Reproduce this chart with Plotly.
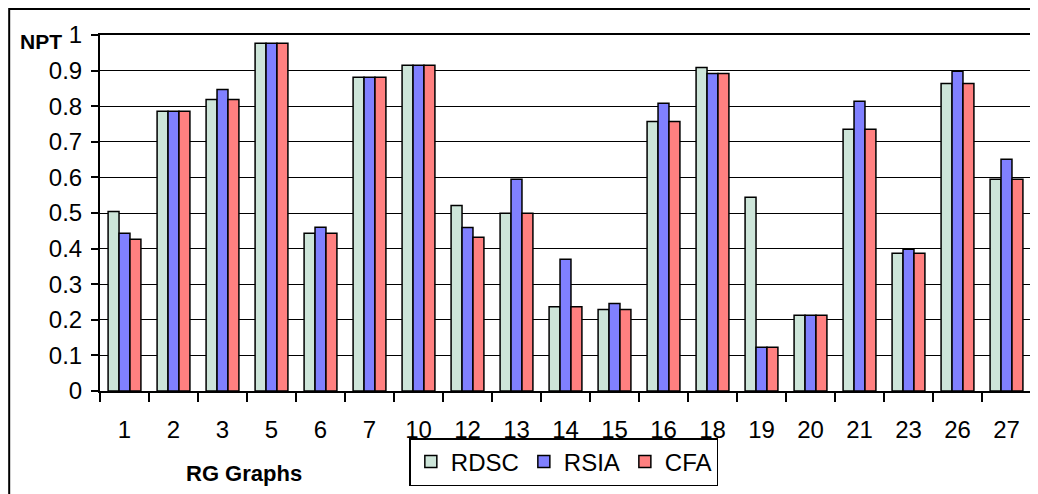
import plotly.graph_objects as go

categories = ["1", "2", "3", "5", "6", "7", "10", "12", "13", "14", "15", "16", "18", "19", "20", "21", "23", "26", "27"]
rdsc = [0.504, 0.786, 0.819, 0.977, 0.443, 0.881, 0.915, 0.521, 0.499, 0.237, 0.229, 0.757, 0.909, 0.544, 0.213, 0.735, 0.387, 0.864, 0.595]
rsia = [0.443, 0.786, 0.847, 0.977, 0.460, 0.881, 0.915, 0.459, 0.595, 0.370, 0.246, 0.808, 0.892, 0.123, 0.213, 0.814, 0.398, 0.898, 0.651]
cfa = [0.426, 0.786, 0.819, 0.977, 0.443, 0.881, 0.915, 0.432, 0.499, 0.237, 0.229, 0.757, 0.892, 0.123, 0.213, 0.735, 0.387, 0.864, 0.595]
y_ticks = [0, 0.1, 0.2, 0.3, 0.4, 0.5, 0.6, 0.7, 0.8, 0.9, 1]
y_ticktext = ["0", "0.1", "0.2", "0.3", "0.4", "0.5", "0.6", "0.7", "0.8", "0.9", "1"]

# page has an 8px body margin, so the figure is sized to fit the window
OFF = 8
W, H = 1038 - OFF, 494 - OFF
ml, mr, mt, mb = 100 - OFF, 5, 35 - OFF, 103
pw, ph = W - ml - mr, H - mt - mb

def px_x(x):
    return (x - OFF - ml) / pw

def px_y(y):
    return (H - mb - (y - OFF)) / ph

font_family = "Liberation Sans, Arial, sans-serif"

fig = go.Figure()
for name, vals, color in [("RDSC", rdsc, "#cde5d9"), ("RSIA", rsia, "#8080ff"), ("CFA", cfa, "#ff8080")]:
    fig.add_trace(go.Bar(
        x=categories, y=vals, name=name,
        marker=dict(color=color, line=dict(color="black", width=1.5)),
    ))

fig.update_layout(
    width=W, height=H,
    margin=dict(l=ml, r=mr, t=mt, b=mb),
    paper_bgcolor="white", plot_bgcolor="white",
    barmode="group", bargap=0.33, bargroupgap=0,
    font=dict(family=font_family, size=24, color="black"),
    showlegend=True,
    legend=dict(
        orientation="h", x=px_x(410), y=px_y(438), xanchor="left", yanchor="top",
        bordercolor="black", borderwidth=1.5, bgcolor="white",
        font=dict(size=24, family=font_family), itemwidth=30,
        traceorder="normal",
    ),
    xaxis=dict(
        type="category", showline=True, linecolor="black", linewidth=2,
        ticks="outside", tickson="boundaries", ticklen=9, tickwidth=2, tickcolor="black",
        showgrid=False, mirror=True, ticklabelstandoff=16,
        tickfont=dict(size=24),
    ),
    yaxis=dict(
        range=[0, 1], tickvals=y_ticks, ticktext=y_ticktext,
        showline=True, linecolor="black", linewidth=2, mirror=True,
        ticks="outside", ticklen=7, tickwidth=2, tickcolor="black",
        showgrid=True, gridcolor="black", gridwidth=1, zeroline=False,
        ticklabelstandoff=4, tickfont=dict(size=24),
    ),
    shapes=[dict(
        type="rect", xref="paper", yref="paper",
        x0=px_x(9), x1=px_x(1060), y0=px_y(520), y1=px_y(9),
        line=dict(color="black", width=2), fillcolor="rgba(0,0,0,0)", layer="below",
    )],
    annotations=[
        dict(text="<b>NPT</b>", xref="paper", yref="paper", x=px_x(64), y=px_y(41),
             xanchor="right", yanchor="middle", showarrow=False, font=dict(size=21)),
        dict(text="<b>RG Graphs</b>", xref="paper", yref="paper", x=px_x(244), y=px_y(473),
             xanchor="center", yanchor="middle", showarrow=False, font=dict(size=22)),
    ],
)

fig.write_html("out.html")
